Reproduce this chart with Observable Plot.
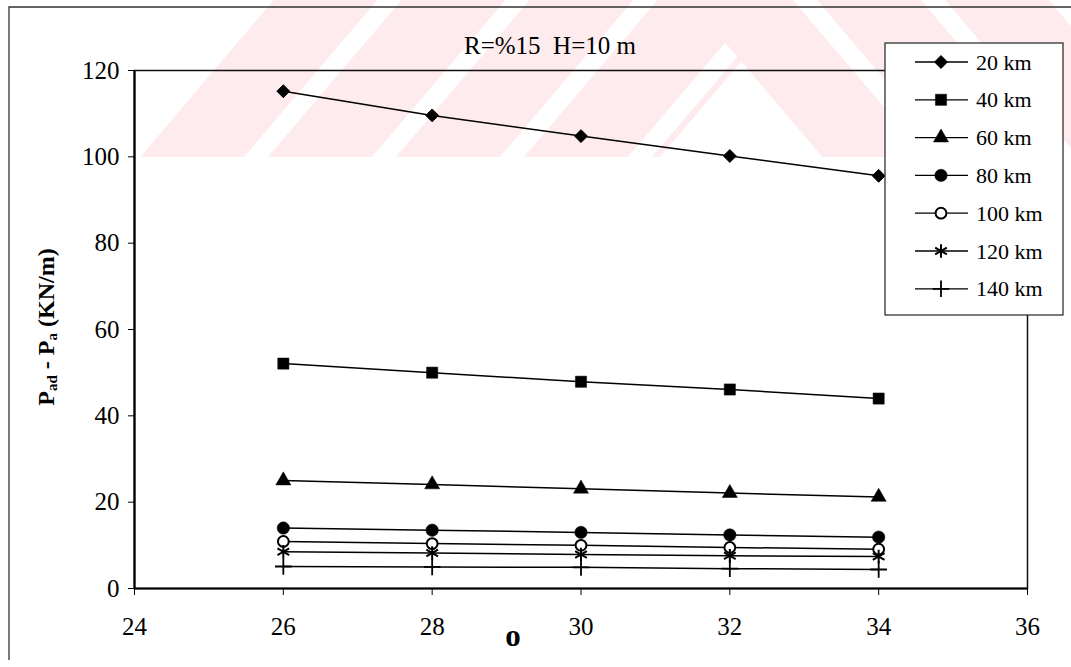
<!DOCTYPE html>
<html>
<head>
<meta charset="utf-8">
<script src="https://cdn.jsdelivr.net/npm/d3@7"></script>
<script src="https://cdn.jsdelivr.net/npm/@observablehq/plot@0.6"></script>
<style>
  html, body { margin: 0; padding: 0; background: #fff; }
  #chart { width: 1071px; height: 667px; }
</style>
</head>
<body>
<div id="chart"></div>
<script>
// Friction angle (degrees) on the x axis
const theta = [26, 28, 30, 32, 34];

// Series: distance to the earthquake source
const seriesNames = ["20 km", "40 km", "60 km", "80 km", "100 km", "120 km", "140 km"];

// Pad - Pa (KN/m) for each distance
const p20  = [115.2, 109.6, 104.8, 100.2, 95.6];
const p40  = [52.1, 50.0, 47.9, 46.1, 44.0];
const p60  = [25.0, 24.1, 23.1, 22.1, 21.2];
const p80  = [14.0, 13.5, 13.0, 12.4, 11.9];
const p100 = [10.9, 10.4, 10.0, 9.5, 9.1];
const p120 = [8.5, 8.2, 7.9, 7.6, 7.4];
const p140 = [5.1, 5.0, 4.9, 4.6, 4.4];
const seriesValues = [p20, p40, p60, p80, p100, p120, p140];

const xTicks = [24, 26, 28, 30, 32, 34, 36];
const yTicks = [0, 20, 40, 60, 80, 100, 120];

const titleText = "R=%15  H=10 m";
const xLabel = "o";

// Marker look for each series
const markerStyles = [
  {symbol: "diamond2", r: 5.8, fill: "#000", stroke: "#000", strokeWidth: 1},
  {symbol: "square",   r: 6.3, fill: "#000", stroke: "#000", strokeWidth: 0.5},
  {symbol: "triangle", r: 5.6, fill: "#000", stroke: "#000", strokeWidth: 0.5},
  {symbol: "circle",   r: 6.2, fill: "#000", stroke: "#000", strokeWidth: 0.5},
  {symbol: "circle",   r: 5.4, fill: "#fff", stroke: "#000", strokeWidth: 2},
  {symbol: "asterisk", r: 6.4, fill: "none", stroke: "#000", strokeWidth: 2},
  {symbol: "plus",     r: 5.4, fill: "none", stroke: "#000", strokeWidth: 1.8}
];

const rows = seriesNames.flatMap((name, i) =>
  theta.map((t, j) => ({series: name, theta: t, value: seriesValues[i][j]}))
);

const serif = "'Liberation Serif', 'Times New Roman', serif";

const chart = Plot.plot({
  width: 1071,
  height: 667,
  marginLeft: 134,
  marginRight: 44,
  marginTop: 70,
  marginBottom: 79,
  style: {fontFamily: serif, fontSize: "25px", color: "#000", background: "#fff"},
  x: {domain: [24, 36]},
  y: {domain: [0, 120]},
  marks: [
    Plot.frame({stroke: "#111", strokeWidth: 1.5}),
    Plot.axisY({ticks: yTicks, tickSize: 6, tickPadding: 9, label: null, fontSize: 25}),
    Plot.axisX({ticks: xTicks, tickSize: 7, tickPadding: 22, label: null, fontSize: 25}),
    Plot.ruleX([24], {stroke: "#000", strokeWidth: 2.2}),
    Plot.ruleY([0], {stroke: "#000", strokeWidth: 2.2}),
    Plot.line(rows, {x: "theta", y: "value", z: "series", stroke: "#000", strokeWidth: 1.5}),
    ...seriesNames.map((name, i) =>
      Plot.dot(rows.filter(d => d.series === name), {
        x: "theta", y: "value",
        symbol: markerStyles[i].symbol,
        r: markerStyles[i].r,
        fill: markerStyles[i].fill,
        stroke: markerStyles[i].stroke,
        strokeWidth: markerStyles[i].strokeWidth
      })
    )
  ]
});

document.getElementById("chart").appendChild(chart);

const svg = d3.select(chart);

// Faint diagonal-stripe watermark across the top band
const wm = svg.insert("g", ":first-child").attr("class", "watermark");
const defs = wm.append("defs");
const bandBottom = 157, slope = 0.85, apexX = 740, apexY = 63;
const leftTop = 140 + slope * bandBottom;
defs.append("clipPath").attr("id", "wm-left").append("polygon")
  .attr("points", [[140, bandBottom], [leftTop, 0], [apexX + slope * apexY, 0], [apexX - slope * (bandBottom - apexY), bandBottom]].join(" "));
defs.append("clipPath").attr("id", "wm-right").append("polygon")
  .attr("points", [[apexX - slope * apexY, 0], [1071, 0], [1071, bandBottom], [apexX + slope * (bandBottom - apexY), bandBottom]].join(" "));
const pink = "#fdebee";
const dx = slope * bandBottom;
const gl = wm.append("g").attr("clip-path", "url(#wm-left)");
for (let b = 140; b < 900; b += 128) {
  gl.append("polygon").attr("fill", pink)
    .attr("points", [[b, bandBottom], [b + 104, bandBottom], [b + 104 + dx, 0], [b + dx, 0]].join(" "));
}
const gr = wm.append("g").attr("clip-path", "url(#wm-right)");
for (let c = 433; c < 1200; c += 128) {
  gr.append("polygon").attr("fill", pink)
    .attr("points", [[c, 0], [c + 104, 0], [c + 104 + dx, bandBottom], [c + dx, bandBottom]].join(" "));
}
// keep the white background beneath the watermark
svg.insert("rect", ":first-child").attr("width", 1071).attr("height", 667).attr("fill", "#fff");

// Outer border of the figure
const border = svg.append("g").attr("stroke", "#333").attr("stroke-width", 1.3).attr("fill", "none");
border.append("path").attr("d", "M9,660 L9,7 L1071,7");

// Title
svg.append("text")
  .attr("x", 550).attr("y", 45)
  .attr("text-anchor", "middle").attr("dominant-baseline", "central")
  .attr("font-family", serif).attr("font-size", 25).attr("fill", "#000")
  .attr("xml:space", "preserve")
  .style("white-space", "pre")
  .text(titleText);

// Y axis title with subscripts
const yt = svg.append("text")
  .attr("transform", "translate(54,327) rotate(-90)")
  .attr("text-anchor", "middle")
  .attr("font-family", serif).attr("font-weight", "bold").attr("font-size", 24).attr("fill", "#000");
yt.append("tspan").text("P");
yt.append("tspan").attr("font-size", 15).attr("dy", 3).text("ad");
yt.append("tspan").attr("dy", -3).text(" - P");
yt.append("tspan").attr("font-size", 15).attr("dy", 3).text("a");
yt.append("tspan").attr("dy", -3).text(" (KN/m)");

// X axis title
svg.append("text")
  .attr("x", 513).attr("y", 646)
  .attr("text-anchor", "middle")
  .attr("font-family", serif).attr("font-weight", "bold").attr("font-size", 31).attr("fill", "#000")
  .text(xLabel);

// Legend box
const lg = svg.append("g");
lg.append("rect").attr("x", 885).attr("y", 43).attr("width", 178).attr("height", 272)
  .attr("fill", "#fff").attr("stroke", "#222").attr("stroke-width", 1.2);
const symbolTypes = {
  diamond2: d3.symbolDiamond2, square: d3.symbolSquare, triangle: d3.symbolTriangle,
  circle: d3.symbolCircle, asterisk: d3.symbolAsterisk, plus: d3.symbolPlus
};
seriesNames.forEach((name, i) => {
  const y = 62 + i * 37.8;
  const m = markerStyles[i];
  lg.append("line").attr("x1", 915).attr("x2", 968).attr("y1", y).attr("y2", y)
    .attr("stroke", "#000").attr("stroke-width", 1.3);
  lg.append("path")
    .attr("transform", `translate(941,${y})`)
    .attr("d", d3.symbol(symbolTypes[m.symbol], Math.PI * m.r * m.r)())
    .attr("fill", m.fill).attr("stroke", m.stroke).attr("stroke-width", m.strokeWidth);
  lg.append("text").attr("x", 976).attr("y", y)
    .attr("text-anchor", "start").attr("dominant-baseline", "central")
    .attr("font-family", serif).attr("font-size", 22).attr("fill", "#000").text(name);
});
</script>
</body>
</html>
